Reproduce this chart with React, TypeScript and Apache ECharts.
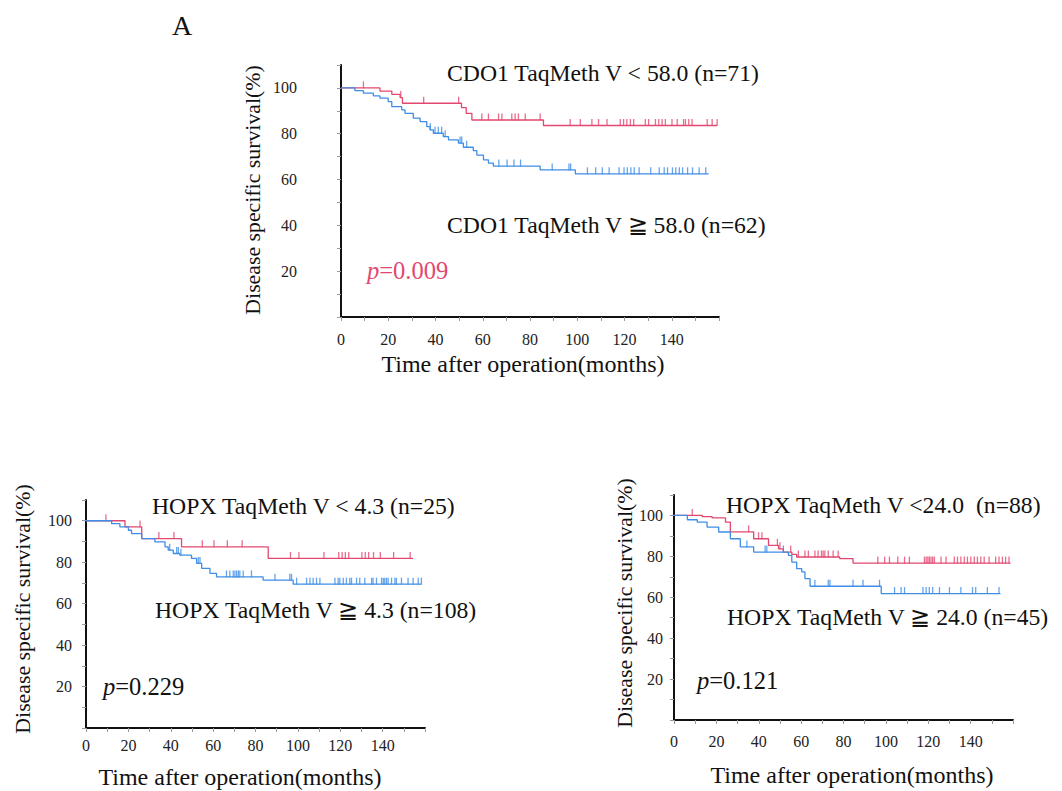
import React, { useEffect, useRef } from "react";
import * as echarts from "echarts";

const X_LABELS = [0, 20, 40, 60, 80, 100, 120, 140];
const Y_LABELS = [20, 40, 60, 80, 100];

const RED = "#e2486f";
const BLUE = "#3f8de6";

// Panel 1: CDO1
const cdoLowTimes = [0, 16.5, 21.5, 25, 26, 51, 53, 55.4, 85.7, 159.2];
const cdoLowSurv = [100, 98.6, 97.2, 95.8, 93.3, 91.4, 88.9, 86.0, 83.6, 83.6];
const cdoLowCensor = [9.5, 25.3, 35, 49.8, 59.6, 62.4, 66.7, 68.1, 72.3, 73.7, 75.1, 78, 84.3, 97, 101.3, 106.2, 109, 112.6, 118.2, 119.6, 121, 122.5, 123.9, 128.8, 130.2, 133.1, 134.5, 135.9, 137.3, 140.1, 142.3, 145, 145.8, 147.2, 148.6, 155, 157.1, 159.2];

const cdoHighTimes = [0, 5.9, 9.5, 13.7, 16.5, 20, 21.5, 25.7, 27.1, 30.6, 33.5, 36.3, 37.7, 39.1, 43.3, 45.5, 49.7, 51.8, 56, 57.5, 60.3, 62.4, 64.5, 84.3, 99.2, 155.6];
const cdoHighSurv = [100, 98.8, 97.7, 96.5, 95.5, 94.0, 91.8, 90.4, 88.9, 86.8, 85.3, 83.1, 81.7, 80.2, 78.7, 77.3, 75.9, 74.1, 72.6, 70.7, 68.6, 67.2, 65.9, 64.2, 62.5, 62.5];
const cdoHighCensor = [37.8, 39.8, 41.2, 42.6, 44.1, 50.4, 51.1, 53.2, 66.8, 70.3, 73.2, 76, 89.4, 96.5, 97.2, 104.3, 107.8, 110.6, 113.5, 117.7, 119.8, 121.2, 122.7, 124.1, 126.2, 131.1, 134.7, 136.8, 138.2, 140.3, 141.7, 143.2, 144.6, 146.7, 148.8, 151.6, 154.4];

// Panel 2: HOPX 4.3
const hopxALowTimes = [0, 18.4, 26.3, 45.1, 86, 154.4];
const hopxALowSurv = [100, 97, 91.4, 87.4, 81.8, 81.8];
const hopxALowCensor = [9.4, 25.5, 34.4, 41.5, 54.9, 60.4, 66.7, 73.7, 96.5, 100.5, 112.3, 119.3, 120.9, 122.4, 124, 130.2, 131.8, 133.4, 135.7, 138.9, 145.2, 153];

const hopxAHighTimes = [0, 12.1, 16, 20, 21.5, 26.3, 32.5, 37.3, 38.8, 41.2, 44.3, 49.8, 52.2, 54.6, 58.5, 61.6, 83.6, 97.8, 158.3];
const hopxAHighSurv = [100, 98.6, 97, 95.4, 93.8, 91.4, 89.8, 87.4, 85.8, 84.2, 83.4, 81.8, 79.4, 77, 74.6, 72.9, 71.3, 69.4, 69.4];
const hopxAHighCensor = [39.5, 42.8, 43.6, 44.8, 53, 53.8, 66.3, 67.9, 69.5, 70.3, 71.1, 71.9, 72.6, 74.2, 78.1, 89.2, 96.2, 97, 99.4, 104.1, 105.7, 107.2, 108.8, 110.4, 117.5, 119, 119.8, 121.4, 122.9, 124.5, 125.3, 127.7, 129.2, 131.6, 134.8, 135.5, 137.1, 139.5, 140.3, 141, 141.8, 142.6, 144.2, 145.8, 146.5, 148.9, 152, 154.4, 156.8, 158.3];

// Panel 3: HOPX 24.0
const hopxBLowTimes = [0, 13.3, 18, 24.3, 26.6, 37.6, 44.6, 49.3, 51.6, 55.6, 57.9, 78.2, 84.5, 158.8];
const hopxBLowSurv = [100, 99.4, 98.8, 96.7, 92, 88.6, 85.4, 83.7, 82.1, 81, 79.7, 78.9, 76.7, 76.7];
const hopxBLowCensor = [8.6, 35.2, 39.9, 41.5, 48.8, 50, 55.1, 58.7, 61.8, 63.4, 66.5, 68, 69.6, 70.4, 71.2, 72.8, 75.1, 77.5, 96.2, 99.4, 101.7, 105.6, 108.8, 111.1, 118.2, 119, 119.8, 120.5, 121.3, 122.1, 122.9, 126, 128.4, 132.3, 133.8, 135.4, 137, 138.5, 140.1, 141.7, 143.2, 144.8, 146.4, 148.7, 151.8, 153.4, 155, 156.5, 158.1];

const hopxBHighTimes = [0, 6.3, 11, 15.6, 21.1, 26.6, 31.3, 37.6, 54, 55.6, 57.9, 60.3, 61.8, 64.2, 97.8, 154.1];
const hopxBHighSurv = [100, 97.9, 96.7, 94.3, 91.9, 88.6, 84.6, 82.1, 80.5, 77.2, 74, 72.4, 69.1, 65.4, 61.8, 61.8];
const hopxBHighCensor = [34.4, 43, 43.8, 51.6, 66.5, 72.8, 73.6, 84.5, 89.2, 97, 104.1, 107.2, 108.8, 117.5, 119, 120.5, 122.1, 125.3, 130, 135.4, 140.9, 142.4, 147.9, 153.4];

const FONT = "Liberation Serif";

function stepValue(times: number[], surv: number[], t: number) {
  let v = surv[0];
  for (let i = 0; i < times.length; i++) if (times[i] <= t) v = surv[i];
  return v;
}

function curve(idx: number, times: number[], surv: number[], censor: number[], color: string) {
  return [
    {
      type: "line",
      xAxisIndex: idx,
      yAxisIndex: idx,
      step: "end",
      data: times.map((t, i) => [t, surv[i]]),
      symbol: "none",
      showSymbol: false,
      lineStyle: { color, width: 1.3 },
      itemStyle: { color },
      silent: true,
    },
    {
      type: "scatter",
      xAxisIndex: idx,
      yAxisIndex: idx,
      data: censor.map((c) => [c, stepValue(times, surv, c)]),
      symbol: "rect",
      symbolSize: [1.3, 7],
      symbolOffset: [0, -3],
      itemStyle: { color },
      silent: true,
    },
  ];
}

function xAxisCfg(idx: number, margin: number) {
  return {
    type: "value",
    gridIndex: idx,
    min: 0,
    max: 160,
    interval: 10,
    axisLine: { show: true, onZero: false, lineStyle: { color: "#111", width: 2 } },
    axisTick: { show: true, length: 4, lineStyle: { color: "#999", width: 1 } },
    splitLine: { show: false },
    axisLabel: {
      show: true,
      margin,
      fontFamily: FONT,
      fontSize: 16,
      color: "#222",
      showMaxLabel: true,
      formatter: (v: number) => (X_LABELS.includes(v) ? String(v) : ""),
    },
  };
}

function yAxisCfg(idx: number, margin: number) {
  return {
    type: "value",
    gridIndex: idx,
    min: 0,
    max: 110,
    interval: 10,
    axisLine: { show: true, onZero: false, lineStyle: { color: "#111", width: 2 } },
    axisTick: { show: true, length: 4, lineStyle: { color: "#999", width: 1 } },
    splitLine: { show: false },
    axisLabel: {
      show: true,
      margin,
      fontFamily: FONT,
      fontSize: 16,
      color: "#222",
      formatter: (v: number) => (Y_LABELS.includes(v) ? String(v) : ""),
    },
  };
}

function txt(x: number, y: number, text: string, size: number, opts: any = {}) {
  return {
    type: "text",
    x,
    y,
    rotation: opts.rotation || 0,
    style: {
      text,
      fontFamily: FONT,
      fontSize: size,
      fill: opts.color || "#111",
      align: opts.align || "left",
      verticalAlign: "middle",
      rich: opts.rich,
    },
  };
}

function pText(x: number, y: number, val: string, color: string) {
  return txt(x, y, "{i|p}=" + val, 24.5, {
    color,
    rich: { i: { fontStyle: "italic", fontFamily: FONT, fontSize: 24.5, fill: color } },
  });
}

const TITLE = 23.7;
const XNAME = 24;
const YNAME = 21.8;

export default function App() {
  const ref = useRef<HTMLDivElement>(null);
  useEffect(() => {
    if (!ref.current) return;
    const chart = echarts.init(ref.current, null, { renderer: "svg" });
    const option: any = {
      animation: false,
      backgroundColor: "#ffffff",
      textStyle: { fontFamily: FONT, fontSize: 16, color: "#222" },
      grid: [
        { left: 341, top: 65, width: 378, height: 252 },
        { left: 86, top: 500, width: 339, height: 228 },
        { left: 674, top: 495, width: 339, height: 225 },
      ],
      xAxis: [xAxisCfg(0, 14), xAxisCfg(1, 9), xAxisCfg(2, 13)],
      yAxis: [yAxisCfg(0, 44), yAxisCfg(1, 14), yAxisCfg(2, 11)],
      series: [
        ...curve(0, cdoLowTimes, cdoLowSurv, cdoLowCensor, RED),
        ...curve(0, cdoHighTimes, cdoHighSurv, cdoHighCensor, BLUE),
        ...curve(1, hopxALowTimes, hopxALowSurv, hopxALowCensor, RED),
        ...curve(1, hopxAHighTimes, hopxAHighSurv, hopxAHighCensor, BLUE),
        ...curve(2, hopxBLowTimes, hopxBLowSurv, hopxBLowCensor, RED),
        ...curve(2, hopxBHighTimes, hopxBHighSurv, hopxBHighCensor, BLUE),
      ],
      graphic: [
        txt(182, 25, "A", 28, { align: "center" }),
        // panel 1
        txt(447, 73, "CDO1 TaqMeth V < 58.0 (n=71)", TITLE),
        txt(447, 225, "CDO1 TaqMeth V ≧ 58.0 (n=62)", TITLE),
        pText(367, 270, "0.009", RED),
        txt(253, 190, "Disease specific survival(%)", YNAME, { align: "center", rotation: Math.PI / 2 }),
        txt(523, 364, "Time after operation(months)", XNAME, { align: "center" }),
        // panel 2
        txt(152, 506, "HOPX TaqMeth V < 4.3 (n=25)", TITLE),
        txt(155, 610, "HOPX TaqMeth V ≧ 4.3 (n=108)", TITLE),
        pText(103, 686, "0.229", "#111"),
        txt(23, 609, "Disease specific survival(%)", YNAME, { align: "center", rotation: Math.PI / 2 }),
        txt(240, 777, "Time after operation(months)", XNAME, { align: "center" }),
        // panel 3
        txt(726, 505, "HOPX TaqMeth V <24.0  (n=88)", TITLE),
        txt(727, 617, "HOPX TaqMeth V ≧ 24.0 (n=45)", TITLE),
        pText(697, 680, "0.121", "#111"),
        txt(625, 603, "Disease specific survival(%)", YNAME, { align: "center", rotation: Math.PI / 2 }),
        txt(852, 775, "Time after operation(months)", XNAME, { align: "center" }),
      ],
    };
    chart.setOption(option);
    return () => chart.dispose();
  }, []);
  return (
    <div
      ref={ref}
      style={{ position: "absolute", left: 0, top: 0, width: 1062, height: 791, background: "#fff" }}
    />
  );
}
